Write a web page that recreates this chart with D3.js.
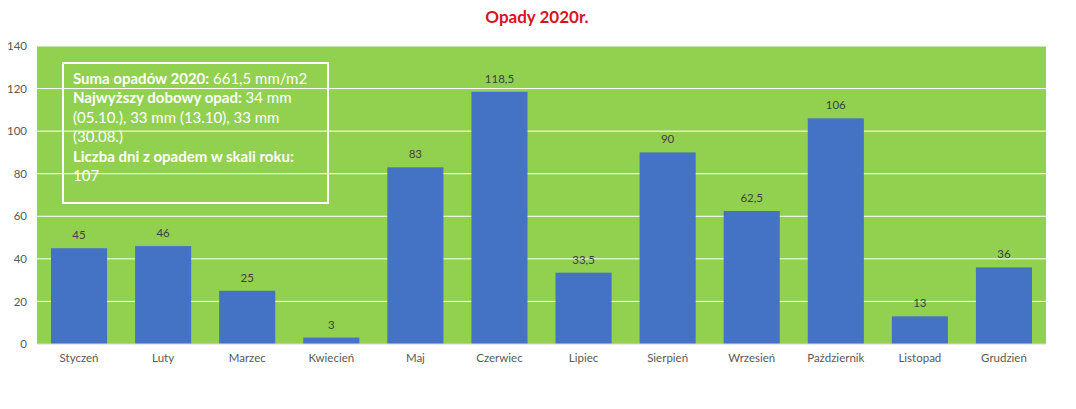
<!DOCTYPE html>
<html><head><meta charset="utf-8">
<script src="https://cdn.jsdelivr.net/npm/d3@7"></script>
<style>body{margin:0;background:#fff}svg{display:block}</style>
</head><body>
<script>
const categories = ["Styczeń","Luty","Marzec","Kwiecień","Maj","Czerwiec","Lipiec","Sierpień","Wrzesień","Październik","Listopad","Grudzień"];
const values = [45,46,25,3,83,118.5,33.5,90,62.5,106,13,36];
const yTicks = [0,20,40,60,80,100,120,140];
const title = "Opady 2020r.";
const noteLines = [
  [["Suma opadów 2020:",true],[" 661,5 mm/m2",false]],
  [["Najwyższy dobowy opad:",true],[" 34 mm",false]],
  [["(05.10.), 33 mm (13.10), 33 mm",false]],
  [["(30.08.)",false]],
  [["Liczba dni z opadem w skali roku:",true]],
  [["107",false]]
];

const W=1076,H=409;
const m={left:37,right:1046,top:46,bottom:344};
const font="Lato, 'Open Sans', sans-serif";
const svg=d3.select("body").append("svg").attr("width",W).attr("height",H);

const x=d3.scaleBand().domain(categories).range([m.left,m.right]).paddingInner(0.333).paddingOuter(0.1665);
const y=d3.scaleLinear().domain([0,140]).range([m.bottom,m.top]);

svg.append("rect").attr("x",m.left).attr("y",m.top).attr("width",m.right-m.left).attr("height",m.bottom-m.top).attr("fill","#92D050");

svg.append("g").selectAll("line").data(yTicks.filter(d=>d>0)).join("line")
  .attr("x1",m.left).attr("x2",m.right).attr("y1",d=>y(d)).attr("y2",d=>y(d))
  .attr("stroke","#ffffff").attr("stroke-width",1);

const yAxis=svg.append("g").attr("transform",`translate(${m.left},0)`)
  .call(d3.axisLeft(y).tickValues(yTicks).tickSize(0).tickPadding(10));
yAxis.select(".domain").remove();
yAxis.selectAll("text").attr("fill","#595959").style("font-family",font).style("font-size","11.5px");

svg.append("g").selectAll("rect").data(values).join("rect")
  .attr("x",(d,i)=>x(categories[i])).attr("width",x.bandwidth())
  .attr("y",d=>y(d)).attr("height",d=>y(0)-y(d)).attr("fill","#4472C4");

svg.append("line").attr("x1",m.left).attr("x2",m.right).attr("y1",y(0)).attr("y2",y(0)).attr("stroke","#d9d9d9").attr("stroke-width",1);

svg.append("g").selectAll("text").data(values).join("text")
  .attr("x",(d,i)=>x(categories[i])+x.bandwidth()/2).attr("y",d=>y(d)-9)
  .attr("text-anchor","middle").attr("fill","#404040")
  .style("font-family",font).style("font-size","11.5px")
  .text(d=>String(d).replace(".",","));

const xAxis=svg.append("g").attr("transform",`translate(0,${m.bottom})`)
  .call(d3.axisBottom(x).tickSize(0).tickPadding(10));
xAxis.select(".domain").remove();
xAxis.selectAll("text").attr("fill","#595959").style("font-family",font).style("font-size","11.5px");

svg.append("text").attr("x",537).attr("y",23).attr("text-anchor","middle")
  .attr("fill","#D7141C").style("font-family",font).style("font-weight","bold").style("font-size","17px").text(title);

svg.append("rect").attr("x",63).attr("y",63).attr("width",265).attr("height",140)
  .attr("fill","none").attr("stroke","#ffffff").attr("stroke-width",2);
const note=svg.append("text").attr("fill","#ffffff").style("font-family",font).style("font-size","15px");
noteLines.forEach((line,i)=>{
  const t=note.append("tspan").attr("x",73).attr("y",84+i*19.4);
  line.forEach(([s,b],j)=>{
    const sp = j===0 ? t : note.append("tspan");
    sp.text(s).style("font-weight",b?"bold":"normal");
  });
});
</script>
</body></html>
